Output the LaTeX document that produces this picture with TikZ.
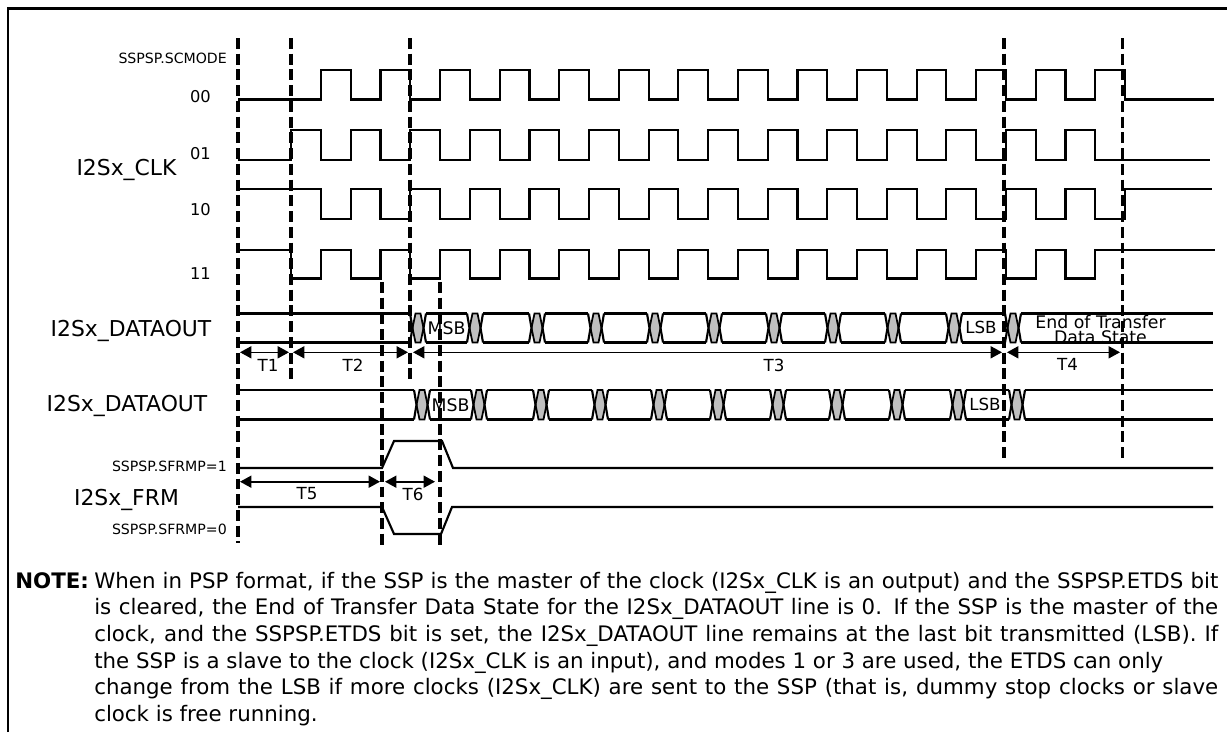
\documentclass[tikz,border=0pt]{standalone}
\usepackage{fontspec}
\setmainfont{DejaVu Sans}
\usepackage{tikz}
\usetikzlibrary{arrows.meta,calc}
\definecolor{eyegrey}{gray}{0.75}
\tikzset{
  wave/.style={line width=1.6pt,line join=miter},
  guide/.style={line width=2.4pt,dash pattern=on 8.2pt off 3.6pt},
  dimline/.style={{Triangle[length=8.5pt,width=9pt]}-{Triangle[length=8.5pt,width=9pt]},line width=1.2pt},
  tlbl/.style={font=\fontsize{12.5}{15}\selectfont,inner sep=0pt},
  bitlbl/.style={font=\fontsize{12.5}{15}\selectfont,inner sep=0pt},
  siglbl/.style={font=\fontsize{16.4}{18}\selectfont,inner sep=0pt},
  reglbl/.style={font=\fontsize{10.6}{12}\selectfont,inner sep=0pt,anchor=east},
  modelbl/.style={font=\fontsize{12.2}{14}\selectfont,inner sep=0pt},
  eyefill/.style={fill=eyegrey,draw=black,line width=1.3pt}
}
% half clock period and first clock edge
\newcommand{\hp}{29.78}
\newcommand{\ck}{321}
% data valid window: eye at #1, rail top #2, rail bottom #3
\newcommand{\dataeye}[3]{
  \path[eyefill] ({#1-5.5},{(#2+#3)/2}) -- ({#1-2.5},#2) -- ({#1+2.5},#2) -- ({#1+5.5},{(#2+#3)/2})
    -- ({#1+2.5},#3) -- ({#1-2.5},#3) -- cycle;
  \draw[wave] ({#1-8},#2) -- ({#1-5.5},{(#2+#3)/2}) -- ({#1-8},#3);
  \draw[wave] ({#1+8},#2) -- ({#1+5.5},{(#2+#3)/2}) -- ({#1+8},#3);
}
\begin{document}
\begin{tikzpicture}[x=0.75pt,y=-0.75pt]
  \useasboundingbox (0,0) rectangle (1227,732);
  % frame
  \draw[line width=1.6pt] (8,732) -- (8,8.5) -- (1227,8.5);

  % guide lines
  \foreach \gx/\gtop/\gbot in {238/38/543,291/38/383,410/38/383,382/282/547,440/282/547,1004/38/462,1122.5/38/462}
    \draw[guide] (\gx,\gtop) -- (\gx,\gbot);

  % clock, mode 00
  \draw[wave] (238,99.5) -- (\ck,99.5)
    \foreach \k in {0,2,...,26} { -- ({\ck+\k*\hp},70) -- ({\ck+(\k+1)*\hp},70) -- ({\ck+(\k+1)*\hp},99.5) -- ({\ck+(\k+2)*\hp},99.5) }
    ;
  \draw[wave] ({\ck+28*\hp},99.5) -- (1214,99.5);
  % clock, mode 01
  \draw[wave] (238,160) -- (291,160) -- (291,130) -- (\ck,130) -- (\ck,160)
    \foreach \k in {0,2,...,24} { -- ({\ck+(\k+1)*\hp},160) -- ({\ck+(\k+1)*\hp},130) -- ({\ck+(\k+2)*\hp},130) -- ({\ck+(\k+2)*\hp},160) }
    -- (1210,160);
  % clock, mode 10
  \draw[wave] (238,189) -- (\ck,189) -- (\ck,219)
    \foreach \k in {0,2,...,24} { -- ({\ck+(\k+1)*\hp},219) -- ({\ck+(\k+1)*\hp},189) -- ({\ck+(\k+2)*\hp},189) -- ({\ck+(\k+2)*\hp},219) }
    -- ({\ck+27*\hp},219) -- ({\ck+27*\hp},189) -- (1212,189);
  % clock, mode 11
  \draw[wave] (238,250) -- (291,250) -- (291,278.5) -- (\ck,278.5)
    \foreach \k in {0,2,...,24} { -- ({\ck+\k*\hp},250) -- ({\ck+(\k+1)*\hp},250) -- ({\ck+(\k+1)*\hp},278.5) -- ({\ck+(\k+2)*\hp},278.5) }
    -- ({\ck+26*\hp},250) -- (1215,250);

  % data out, first
  \draw[wave] (238,313.5) -- (410,313.5) (238,342.5) -- (410,342.5);
  \foreach \cx/\cy in {418/475,475/537,537/596,596/655,655/714,714/774,774/833,833/893,893/954,954/1013}
    \draw[wave] ({\cx+8},313.5) -- ({\cy-8},313.5) ({\cx+8},342.5) -- ({\cy-8},342.5);
  \draw[wave] (1021,313.5) -- (1213,313.5) (1021,342.5) -- (1213,342.5);
  \foreach \cx in {418,475,537,596,655,714,774,833,893,954,1013}
    {\dataeye{\cx}{313.5}{342.5}}
  % data out, second
  \draw[wave] (238,390) -- (414,390) (238,419.5) -- (414,419.5);
  \foreach \cx/\cy in {422/479,479/541,541/600,600/659,659/718,718/778,778/837,837/897,897/958,958/1017}
    \draw[wave] ({\cx+8},390) -- ({\cy-8},390) ({\cx+8},419.5) -- ({\cy-8},419.5);
  \draw[wave] (1025,390) -- (1213,390) (1025,419.5) -- (1213,419.5);
  \foreach \cx in {422,479,541,600,659,718,778,837,897,958,1017}
    {\dataeye{\cx}{390}{419.5}}

  % frame sync
  \draw[wave] (238,468) -- (382,468) -- (394,441) -- (442,441) -- (453,468) -- (1213,468);
  \draw[wave] (238,507) -- (382,507) -- (394,534) -- (441,534) -- (452,507) -- (1213,507);

  % timing marks
  \coordinate (a1) at (240,352.3);
  \coordinate (a2) at (289,352.3);
  \coordinate (b1) at (293,352.3);
  \coordinate (b2) at (408,352.3);
  \coordinate (c1) at (413,352.3);
  \coordinate (c2) at (1002,352.3);
  \coordinate (d1) at (1007,352.3);
  \coordinate (d2) at (1120,352.3);
  \coordinate (e1) at (240,481.7);
  \coordinate (e2) at (380,481.7);
  \coordinate (f1) at (385,481.7);
  \coordinate (f2) at (435,481.7);
  \draw[dimline] (a1) -- (a2);
  \draw[dimline] (b1) -- (b2);
  \draw[dimline] (c1) -- (c2);
  \draw[dimline] (d1) -- (d2);
  \draw[dimline] (e1) -- (e2);
  \draw[dimline] (f1) -- (f2);
  \node[tlbl] (t1) at (268,365) {T1};
  \node[tlbl] (t2) at (353,365) {T2};
  \node[tlbl] (t3) at (774,365) {T3};
  \node[tlbl] (t4) at (1067.5,364) {T4};
  \node[tlbl] (t5) at (307,494) {T5};
  \node[tlbl] (t6) at (413,494) {T6};

  % texts
  \node[reglbl] (scmode) at (227,58) {SSPSP.SCMODE};
  \node[modelbl] (m00) at (200.5,97) {00};
  \node[modelbl] (m01) at (200.5,153.5) {01};
  \node[modelbl] (m10) at (200.5,209.5) {10};
  \node[modelbl] (m11) at (200.5,273.5) {11};
  \node[siglbl] (clk) at (126.5,170) {I2Sx\_CLK};
  \node[siglbl] (dout1) at (131,330.7) {I2Sx\_DATAOUT};
  \node[siglbl] (dout2) at (127,405.7) {I2Sx\_DATAOUT};
  \node[siglbl] (frm) at (126.5,500) {I2Sx\_FRM};
  \node[reglbl] (frmp1) at (227,466.7) {SSPSP.SFRMP=1};
  \node[reglbl] (frmp0) at (227,529) {SSPSP.SFRMP=0};
  \node[bitlbl,font=\fontsize{13}{15}\selectfont] (msb1) at (446.5,328) {MSB};
  \node[bitlbl] (lsb1) at (981,327) {LSB};
  \node[bitlbl,font=\fontsize{13}{15}\selectfont] (msb2) at (450.5,405) {MSB};
  \node[bitlbl] (lsb2) at (985,404.5) {LSB};
  \node[bitlbl,align=center,font=\fontsize{13}{9.5}\selectfont] (etds) at (1100.5,329.5) {End of Transfer\\Data State};

  % note
  \node[anchor=base west,inner sep=0pt,font=\fontsize{16}{20}\bfseries\selectfont] (notehd) at (15,588.3) {NOTE:};
  \node[anchor=base west,inner sep=0pt,text width=843pt,align=justify,font=\fontsize{16}{20}\selectfont] (notetxt) at (94,588.3)
    {When in PSP format, if the SSP is the master of the clock (I2Sx\_CLK is an output) and the SSPSP.ETDS bit\linebreak
     is cleared, the End of Transfer Data State for the I2Sx\_DATAOUT line is 0. If the SSP is the master of the\linebreak
     clock, and the SSPSP.ETDS bit is set, the I2Sx\_DATAOUT line remains at the last bit transmitted (LSB). If\linebreak
     the SSP is a slave to the clock (I2Sx\_CLK is an input), and modes 1 or 3 are used, the ETDS can only\newline
     change from the LSB if more clocks (I2Sx\_CLK) are sent to the SSP (that is, dummy stop clocks or slave\linebreak
     clock is free running.};
\end{tikzpicture}
\end{document}
